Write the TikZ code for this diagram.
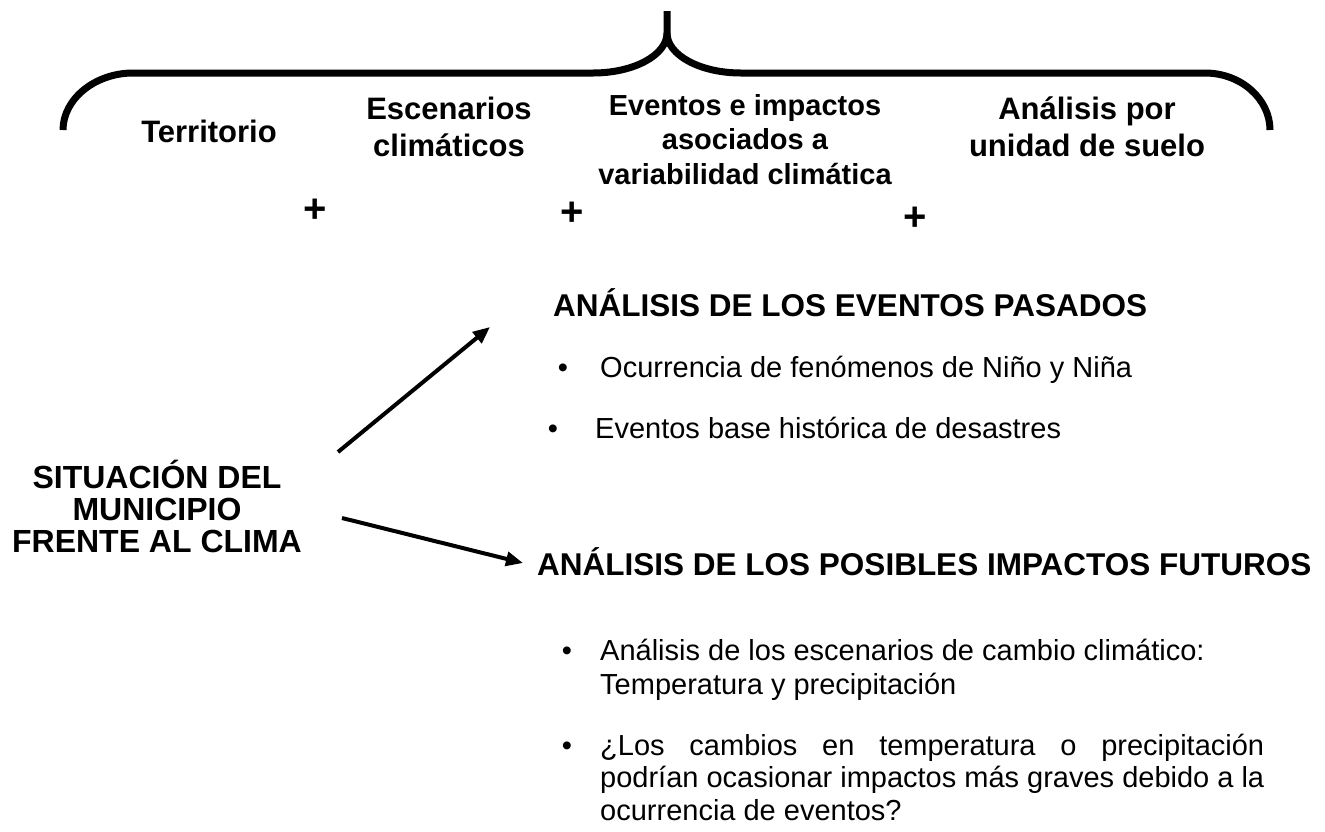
\documentclass[tikz,border=0pt]{standalone}
\usepackage{fontspec}
\setmainfont{Liberation Sans}
\usetikzlibrary{arrows.meta}
\newcommand{\mlines}[1]{\begin{tabular}[t]{@{}c@{}}#1\end{tabular}}
\begin{document}
\begin{tikzpicture}[x=1pt,y=-1pt,
  brace/.style={line width=7pt, line cap=butt, line join=round},
  toplbl/.style={anchor=base, inner sep=0pt, font=\fontsize{31}{37}\selectfont\bfseries},
  evlbl/.style={anchor=base, inner sep=0pt, font=\fontsize{29}{34.5}\selectfont\bfseries},
  plus/.style={anchor=center, inner sep=0pt, font=\fontsize{40}{40}\selectfont\bfseries},
  mainlbl/.style={anchor=base, inner sep=0pt, font=\fontsize{32}{32}\selectfont\bfseries},
  heading/.style={anchor=base west, inner sep=0pt, font=\fontsize{31.5}{36}\selectfont\bfseries},
  bul/.style={anchor=base, inner sep=0pt, font=\fontsize{29}{34}\selectfont},
  btext/.style={anchor=base west, inner sep=0pt, font=\fontsize{29}{34}\selectfont},
  arr/.style={line width=4pt, -{Triangle[length=17pt,width=14pt]}}
]
\useasboundingbox (0,0) rectangle (1325,831);

% brace
\draw[brace] (63,130) .. controls (63,99) and (95,73) .. (133,73) -- (593,73)
  .. controls (634,73) and (667,55) .. (667,33) -- (667,11);
\draw[brace] (667,33) .. controls (667,55) and (700,73) .. (741,73) -- (1205,73)
  .. controls (1241,73) and (1270,99) .. (1270,130);

% top labels
\node[toplbl] (terr) at (209,142) {Territorio};
\node[toplbl] (esc) at (449,119) {\mlines{Escenarios\\climáticos}};
\node[evlbl] (ev) at (745,115) {\mlines{Eventos e impactos\\asociados a\\variabilidad climática}};
\node[toplbl] (ana) at (1087,119) {\mlines{Análisis por\\unidad de suelo}};

% plus signs
\node[plus] (p1) at (315,211) {+};
\node[plus] (p2) at (572,214) {+};
\node[plus] (p3) at (915,219) {+};

% main label
\node[mainlbl] (sit) at (157,488) {\mlines{SITUACIÓN DEL\\MUNICIPIO\\FRENTE AL CLIMA}};

% headings
\node[heading] (h1) at (553,316) {ANÁLISIS DE LOS EVENTOS PASADOS};
\node[heading] (h2) at (537,575) {ANÁLISIS DE LOS POSIBLES IMPACTOS FUTUROS};

% past events bullets
\node[bul] (d1) at (563,377) {•};
\node[btext] (t1) at (600,377) {Ocurrencia de fenómenos de Niño y Niña};
\node[bul] (d2) at (553,438) {•};
\node[btext] (t2) at (595,438) {Eventos base histórica de desastres};

% future impacts bullets
\node[bul] (d3) at (567,660) {•};
\node[btext] (t3) at (600,660) {\parbox[t]{664pt}{\fontsize{29}{34}\selectfont Análisis de los escenarios de cambio climático:\\Temperatura y precipitación}};
\node[bul] (d4) at (567,755) {•};
\node[btext] (t4) at (600,755) {\parbox[t]{664pt}{\fontsize{29}{32.5}\selectfont ¿Los cambios en temperatura o precipitación\linebreak podrían ocasionar impactos más graves debido a la\linebreak ocurrencia de eventos?}};

% arrows
\coordinate (u0) at (338,452);
\coordinate (u1) at (490,327);
\coordinate (l0) at (342,518);
\coordinate (l1) at (523,563);
\draw[arr] (u0) -- (u1);
\draw[arr] (l0) -- (l1);
\end{tikzpicture}
\end{document}
